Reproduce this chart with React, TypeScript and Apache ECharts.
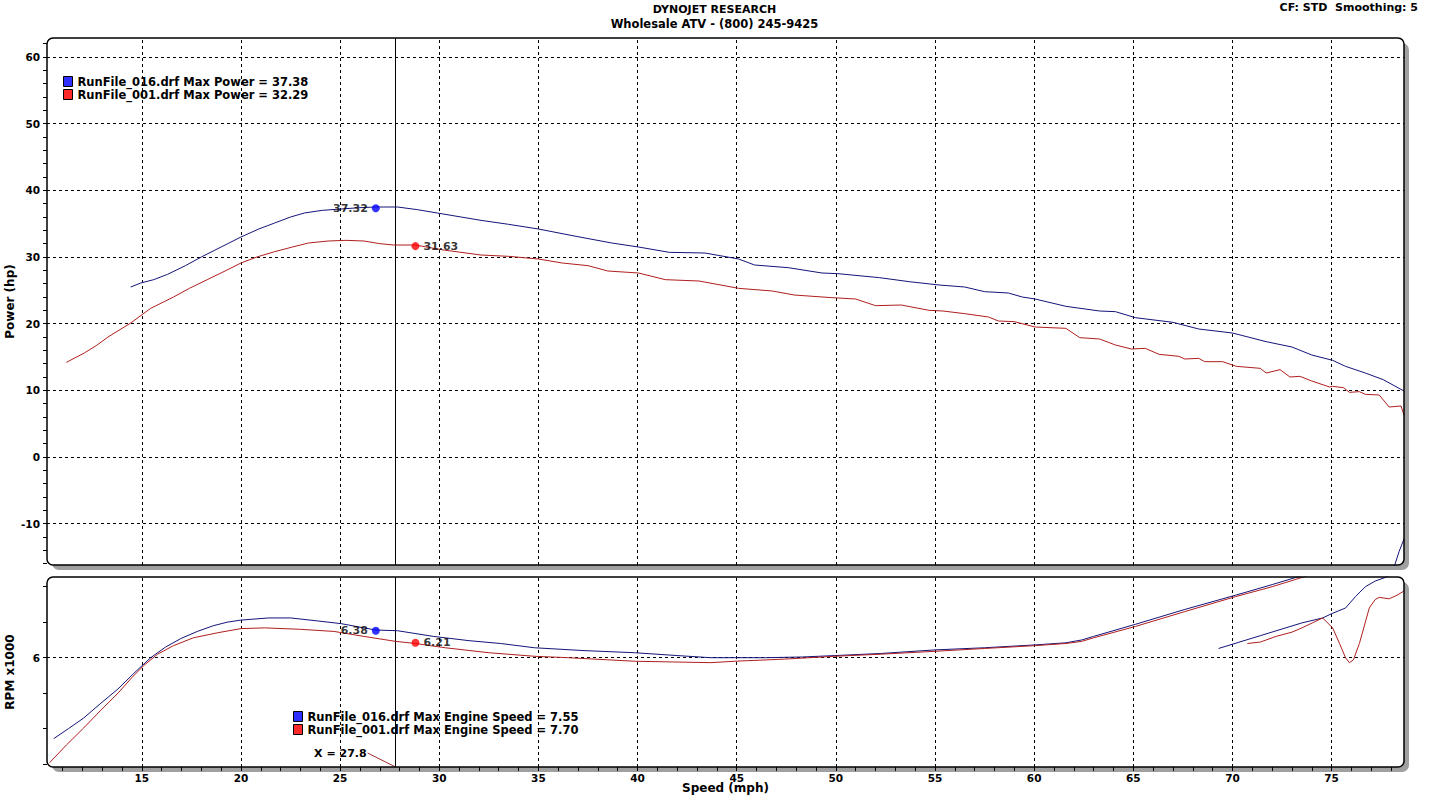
import React, { useEffect, useRef } from "react";
import * as echarts from "echarts";

const FONT = "'DejaVu Sans', Verdana, sans-serif";

// ---- axis ranges and ticks ----
const X_MIN = 10.22;
const X_MAX = 78.65;
const P_MIN = -16.2;
const P_MAX = 62.85;
const R_MIN = 4.46;
const R_MAX = 7.137;
const CURSOR_X = 27.8;

const speedTicks = [15, 20, 25, 30, 35, 40, 45, 50, 55, 60, 65, 70, 75];
const speedMinorTicks = Array.from({ length: 68 }, (_, i) => 11 + i);
const powerTicks = [-10, 0, 10, 20, 30, 40, 50, 60];
const powerMinorTicks = Array.from({ length: 40 }, (_, i) => -16 + i * 2);
const rpmTicks = [6];
const rpmMinorTicks = [4.5, 5, 5.5, 6, 6.5, 7];

// ---- series names ----
const P16 = "RunFile_016.drf Max Power = 37.38";
const P01 = "RunFile_001.drf Max Power = 32.29";
const R16 = "RunFile_016.drf Max Engine Speed = 7.55";
const R01 = "RunFile_001.drf Max Engine Speed = 7.70";

// ---- data: [speed mph, power hp] ----
const powerBlue: [number, number][] = [
  [14.44, 25.5], [14.95, 26.1], [15.6, 26.6], [16.3, 27.4], [17.2, 28.7], [18.0, 30.0],
  [19.0, 31.5], [20.0, 33.0], [20.9, 34.2], [21.7, 35.1], [22.5, 36.0], [23.2, 36.6],
  [24.1, 37.0], [25.05, 37.2], [26.0, 37.4], [26.8, 37.5], [27.9, 37.5], [28.9, 37.1],
  [29.9, 36.6], [31.1, 36.0], [32.1, 35.5], [33.5, 34.9], [35.0, 34.2], [36.9, 33.1],
  [38.7, 32.1], [40.05, 31.5], [41.6, 30.7], [43.4, 30.6], [45.1, 29.7], [45.9, 28.8],
  [47.6, 28.4], [49.3, 27.6], [50.1, 27.5], [52.2, 26.9], [53.7, 26.3], [55.2, 25.8],
  [56.5, 25.5], [57.5, 24.8], [58.7, 24.6], [59.4, 24.0], [60.05, 23.7], [61.6, 22.6],
  [63.3, 21.9], [64.1, 21.8], [65.1, 20.9], [67.0, 20.2], [68.3, 19.2], [70.0, 18.6],
  [71.7, 17.3], [73.0, 16.5], [74.0, 15.3], [75.05, 14.5], [75.7, 13.6], [76.7, 12.6],
  [77.6, 11.6], [78.65, 9.9],
];
const powerBlueTail: [number, number][] = [
  [78.1, -17.0], [78.4, -14.2], [78.65, -12.3],
];
const powerRed: [number, number][] = [
  [11.2, 14.2], [12.1, 15.6], [12.7, 16.7], [13.3, 18.0], [14.44, 20.1], [15.45, 22.3],
  [16.6, 24.0], [17.4, 25.3], [18.3, 26.6], [19.2, 27.9], [20.0, 29.1], [20.8, 30.0],
  [21.7, 30.8], [22.6, 31.5], [23.4, 32.1], [24.4, 32.4], [25.3, 32.5], [26.2, 32.4],
  [27.0, 32.0], [27.7, 31.8], [28.8, 31.8], [30.1, 31.1], [31.1, 30.7], [32.1, 30.3],
  [33.5, 30.1], [35.0, 29.7], [36.2, 29.1], [37.5, 28.7], [38.5, 27.9], [40.05, 27.6],
  [41.4, 26.6], [43.1, 26.4], [45.1, 25.3], [46.8, 24.9], [47.9, 24.3], [49.8, 23.9],
  [51.0, 23.7], [52.0, 22.7], [53.3, 22.8], [54.7, 22.0], [55.4, 21.9], [56.5, 21.5],
  [57.7, 21.0], [58.2, 20.4], [59.0, 20.3], [60.05, 19.5], [61.6, 19.3], [62.3, 17.9],
  [63.3, 17.7], [64.1, 16.8], [64.9, 16.2], [65.6, 16.3], [66.3, 15.4], [67.3, 15.1],
  [67.6, 14.7], [68.3, 14.8], [68.6, 14.3], [69.5, 14.3], [70.2, 13.6], [71.4, 13.3],
  [71.7, 12.6], [72.4, 13.1], [72.9, 12.0], [73.4, 12.1], [74.0, 11.4], [74.9, 10.5],
  [75.05, 10.6], [75.6, 10.4], [75.9, 9.7], [76.4, 9.8], [76.7, 9.4], [77.4, 9.3],
  [77.9, 7.5], [78.3, 7.6], [78.5, 7.65], [78.65, 6.3],
];

// ---- data: [speed mph, engine speed x1000] ----
const rpmBlueA: [number, number][] = [
  [10.56, 4.86], [11.3, 5.0], [12.07, 5.15], [12.9, 5.35], [13.8, 5.56], [14.6, 5.78],
  [15.45, 6.0], [16.2, 6.15], [16.97, 6.27], [17.8, 6.37], [18.6, 6.45], [19.3, 6.5],
  [20.0, 6.53], [21.4, 6.56], [22.5, 6.56], [23.8, 6.52], [25.05, 6.48], [26.0, 6.43],
  [26.8, 6.39], [27.9, 6.38], [29.7, 6.3], [31.5, 6.24], [33.1, 6.2], [34.8, 6.14],
  [37.3, 6.1], [39.85, 6.07], [42.0, 6.03], [43.7, 6.0], [44.9, 6.0], [46.5, 6.0],
  [48.3, 6.01], [49.95, 6.03], [52.3, 6.06], [55.0, 6.11], [57.5, 6.14], [60.05, 6.18],
  [61.6, 6.21], [62.4, 6.25], [63.0, 6.3], [65.1, 6.47], [67.6, 6.68], [70.15, 6.88],
  [72.0, 7.03], [73.3, 7.14], [74.0, 7.2],
];
const rpmBlueB: [number, number][] = [
  [69.3, 6.13], [71.4, 6.31], [73.5, 6.49], [74.55, 6.56], [75.0, 6.62], [75.7, 6.7],
  [76.2, 6.86], [76.7, 7.0], [77.2, 7.08], [77.7, 7.13], [78.2, 7.2],
];
const rpmRedA: [number, number][] = [
  [10.35, 4.52], [11.2, 4.77], [12.07, 5.01], [12.9, 5.25], [13.8, 5.5], [14.5, 5.72],
  [15.1, 5.89], [15.8, 6.05], [16.6, 6.17], [17.6, 6.28], [18.8, 6.35], [20.0, 6.41],
  [21.2, 6.42], [23.0, 6.4], [24.7, 6.37], [26.2, 6.3], [27.8, 6.23], [28.8, 6.2],
  [30.3, 6.14], [32.5, 6.07], [34.8, 6.02], [36.5, 6.0], [38.5, 5.97], [39.85, 5.95],
  [41.8, 5.94], [43.7, 5.93], [44.9, 5.95], [47.4, 5.98], [49.95, 6.02], [52.3, 6.05],
  [55.0, 6.09], [57.5, 6.13], [60.05, 6.17], [61.6, 6.2], [62.4, 6.23], [63.0, 6.28],
  [65.1, 6.44], [67.6, 6.65], [70.15, 6.86], [72.0, 7.0], [73.5, 7.13], [74.0, 7.18],
];
const rpmRedB: [number, number][] = [
  [70.75, 6.2], [71.4, 6.22], [72.2, 6.3], [73.0, 6.36], [73.5, 6.42], [74.1, 6.5],
  [74.55, 6.56], [75.05, 6.42], [75.4, 6.2], [75.7, 6.0], [75.9, 5.93], [76.1, 5.97],
  [76.4, 6.2], [76.7, 6.5], [76.9, 6.7], [77.2, 6.82], [77.4, 6.85], [77.9, 6.83],
  [78.3, 6.88], [78.65, 6.94],
];

// cursor read-outs
const powerMarkers: [number, number][] = [[26.8, 37.32], [28.8, 31.63]];
const rpmMarkers: [number, number][] = [[26.8, 6.38], [28.8, 6.21]];

const BLUE_LINE = "#14147a";
const RED_LINE = "#b01e1e";
const BLUE_ICON = "#2f2fff";
const RED_ICON = "#ff2a2a";

const GRIDS = [
  { left: 47, top: 38, width: 1357, height: 527 },
  { left: 47, top: 577, width: 1357, height: 190 },
];

const bold = (size: number) => ({
  fontFamily: FONT,
  fontWeight: "bold" as const,
  fontSize: size,
  color: "#000",
});

const gridMarkLine = (hTicks: number[]) => ({
  silent: true,
  symbol: ["none", "none"],
  z: 1,
  label: { show: false },
  emphasis: { disabled: true },
  lineStyle: { color: "#000", type: [3, 3], width: 1 },
  data: [
    ...speedTicks.map((v) => ({ xAxis: v })),
    ...hTicks.map((v) => ({ yAxis: v })),
    { xAxis: CURSOR_X, lineStyle: { type: "solid", color: "#000", width: 1 } },
  ],
});

const lineSeries = (
  name: string,
  data: [number, number][],
  idx: number,
  line: string,
  icon: string,
  extra: any = {}
) => ({
  type: "line",
  name,
  xAxisIndex: idx,
  yAxisIndex: idx,
  data,
  showSymbol: false,
  symbol: "none",
  clip: true,
  z: 3,
  lineStyle: { color: line, width: 1 },
  itemStyle: { color: icon },
  emphasis: { disabled: true },
  ...extra,
});

const markerSeries = (data: [number, number][], idx: number) => ({
  type: "scatter",
  name: "cursor" + idx,
  xAxisIndex: idx,
  yAxisIndex: idx,
  symbolSize: 8,
  z: 10,
  label: {
    show: true,
    ...bold(11),
    color: "#000",
    distance: 4,
    formatter: (p: any) => p.value[1].toFixed(2),
  },
  data: [
    { value: data[0], itemStyle: { color: "#0000ff" }, label: { position: "left" } },
    { value: data[1], itemStyle: { color: "#ff0000" }, label: { position: "right" } },
  ],
});

const panelGraphics = () => {
  const els: any[] = [];
  GRIDS.forEach((g, i) => {
    els.push({
      type: "rect",
      id: "shadow" + i,
      z: -10,
      shape: { x: g.left + 5, y: g.top + 5, width: g.width, height: g.height, r: 7 },
      style: { fill: "#a0a0a0" },
      silent: true,
    });
    els.push({
      type: "rect",
      id: "bg" + i,
      z: -9,
      shape: { x: g.left, y: g.top, width: g.width, height: g.height, r: 6 },
      style: { fill: "#ffffff" },
      silent: true,
    });
    els.push({
      type: "rect",
      id: "border" + i,
      z: 100,
      shape: { x: g.left, y: g.top, width: g.width, height: g.height, r: 6 },
      style: { fill: "none", stroke: "#000", lineWidth: 1.5 },
      silent: true,
    });
  });
  els.push({
    type: "text",
    id: "cf",
    x: 1418,
    y: 7,
    style: {
      text: "CF: STD  Smoothing: 5",
      ...bold(11),
      fill: "#000",
      align: "right",
      verticalAlign: "middle",
    },
  });
  return els;
};

const legendBase = {
  orient: "vertical",
  padding: 0,
  itemWidth: 9,
  itemHeight: 10,
  itemGap: 0,
  icon: "rect",
  selectedMode: false,
  itemStyle: { borderColor: "#000", borderWidth: 1 },
  textStyle: { ...bold(11.5), lineHeight: 13 },
};

const option: any = {
  animation: false,
  backgroundColor: "#fff",
  title: {
    text: "DYNOJET RESEARCH",
    subtext: "Wholesale ATV - (800) 245-9425",
    left: "center",
    top: 4,
    padding: 0,
    itemGap: 3,
    textStyle: bold(11),
    subtextStyle: bold(11.5),
  },
  legend: [
    { ...legendBase, data: [P16, P01], left: 63, top: 75 },
    { ...legendBase, data: [R16, R01], left: 293, top: 710 },
  ],
  grid: GRIDS.map((g) => ({ ...g, containLabel: false, outerBoundsMode: "none" })),
  xAxis: [
    {
      type: "value",
      gridIndex: 0,
      min: X_MIN,
      max: X_MAX,
      axisLine: { show: false },
      axisTick: { show: false },
      axisLabel: { show: false },
      splitLine: { show: false },
    },
    {
      type: "value",
      gridIndex: 1,
      min: X_MIN,
      max: X_MAX,
      name: "Speed (mph)",
      nameLocation: "middle",
      nameGap: 15,
      nameMoveOverlap: false,
      nameTextStyle: { ...bold(12), verticalAlign: "top" },
      axisLine: { show: false },
      axisTick: {
        show: true,
        customValues: speedMinorTicks,
        length: 4,
        lineStyle: { color: "#000", width: 1 },
      },
      axisLabel: { customValues: speedTicks, margin: 5, ...bold(10.5) },
      splitLine: { show: false },
    },
  ],
  yAxis: [
    {
      type: "value",
      gridIndex: 0,
      min: P_MIN,
      max: P_MAX,
      name: "Power (hp)",
      nameLocation: "middle",
      nameGap: 31,
      nameRotate: 90,
      nameMoveOverlap: false,
      nameTextStyle: bold(12),
      axisLine: { show: false },
      axisTick: {
        show: true,
        customValues: powerMinorTicks,
        length: 4,
        lineStyle: { color: "#000", width: 1 },
      },
      axisLabel: { customValues: powerTicks, margin: 7, ...bold(10.5) },
      splitLine: { show: false },
    },
    {
      type: "value",
      gridIndex: 1,
      min: R_MIN,
      max: R_MAX,
      name: "RPM x1000",
      nameLocation: "middle",
      nameGap: 31,
      nameRotate: 90,
      nameMoveOverlap: false,
      nameTextStyle: bold(12),
      axisLine: { show: false },
      axisTick: {
        show: true,
        customValues: rpmMinorTicks,
        length: 4,
        lineStyle: { color: "#000", width: 1 },
      },
      axisLabel: { customValues: rpmTicks, margin: 7, ...bold(10.5) },
      splitLine: { show: false },
    },
  ],
  series: [
    lineSeries(P16, powerBlue, 0, BLUE_LINE, BLUE_ICON, { markLine: gridMarkLine(powerTicks) }),
    lineSeries(P16, powerBlueTail, 0, BLUE_LINE, BLUE_ICON),
    lineSeries(P01, powerRed, 0, RED_LINE, RED_ICON),
    markerSeries(powerMarkers, 0),
    lineSeries(R16, rpmBlueA, 1, BLUE_LINE, BLUE_ICON, { markLine: gridMarkLine(rpmTicks) }),
    lineSeries(R16, rpmBlueB, 1, BLUE_LINE, BLUE_ICON),
    lineSeries(R01, rpmRedA, 1, RED_LINE, RED_ICON),
    lineSeries(R01, rpmRedB, 1, RED_LINE, RED_ICON),
    markerSeries(rpmMarkers, 1),
  ],
  graphic: { elements: panelGraphics() },
};

export default function App() {
  const ref = useRef<HTMLDivElement>(null);
  useEffect(() => {
    document.body.style.margin = "0";
    if (!ref.current) return;
    const chart = echarts.init(ref.current, null, { renderer: "svg" });
    chart.setOption(option);
    const pt = chart.convertToPixel({ xAxisIndex: 1, yAxisIndex: 1 }, [CURSOR_X, R_MIN]) as number[];
    if (pt && isFinite(pt[0])) {
      const els = panelGraphics();
      els.push({
        type: "line",
        id: "xline",
        z: 20,
        shape: { x1: pt[0] - 28, y1: pt[1] - 14, x2: pt[0], y2: pt[1] },
        style: { stroke: "#a03030", lineWidth: 1 },
        silent: true,
      });
      els.push({
        type: "text",
        id: "xtext",
        z: 20,
        x: pt[0] - 29,
        y: pt[1] - 14,
        style: {
          text: "X = " + CURSOR_X.toFixed(1),
          ...bold(11),
          fill: "#000",
          align: "right",
          verticalAlign: "middle",
        },
      });
      chart.setOption({ graphic: { elements: els } }, { replaceMerge: ["graphic"] });
    }
    return () => chart.dispose();
  }, []);
  return <div ref={ref} style={{ width: 1429, height: 801 }} />;
}
